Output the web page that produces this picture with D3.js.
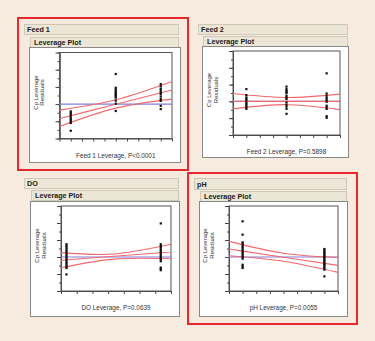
<!DOCTYPE html>
<html>
<head>
<meta charset="utf-8">
<script src="https://cdn.jsdelivr.net/npm/d3@7"></script>
<style>
  body { margin: 0; background: #f6ebde; }
  svg { display: block; font-family: "Liberation Sans", Arial, sans-serif; }
</style>
</head>
<body>
<div id="svg-container"></div>
<script>
// factor titles and the captions under each leverage plot
const factorNames = ['Feed 1', 'Feed 2', 'DO', 'pH'];
const xCaptions = [
    'Feed 1 Leverage, P<0.0001',
    'Feed 2 Leverage, P=0.5898',
    'DO Leverage, P=0.0639',
    'pH Leverage, P=0.0055'
];
const yCaption = ['Cp Leverage', 'Residuals'];

// residual axis ticks (majors every 2) and number of x ticks per plot
const yTickValues = [-4, -3, -2, -1, 0, 1, 2, 3, 4, 5, 6];
const yMajorValues = [-4, -2, 0, 2, 4, 6];
const xTickCounts = [10, 8, 7, 8];

// Feed 1: leverage levels and residuals at each level
const levelsFeed1 = [1, 5, 9];
const residFeed1 = [
    [-0.85, -1.05, -1.25, -1.45, -1.65, -1.85, -2.05, -2.2, -3.1],
    [3.5, 1.9, 1.7, 1.5, 1.35, 1.2, 1.05, 0.9, 0.75, 0.4, 0.05, -0.8],
    [2.33, 2.05, 1.75, 1.55, 1.35, 1.16, 0.88, 0.58, 0.38, -0.2, -0.58]
];
const bandXFeed1 = [0, 5, 10];
const upperFeed1 = [-0.7, 0.5, 2.63];
const fitFeed1 = [-1.67, -0.02, 1.63];
const lowerFeed1 = [-2.6, -0.47, 0.58];

// Feed 2
const levelsFeed2 = [1, 4, 7];
const residFeed2 = [
    [1.46, 0.75, 0.47, 0.28, 0.08, -0.12, -0.31, -0.51, -0.71, -0.89],
    [1.76, 1.46, 1.26, 1.14, 0.99, 0.67, 0.47, 0.28, -0.12, -0.39, -0.62, -0.89, -1.48],
    [3.34, 0.94, 0.67, 0.4, 0.16, -0.04, -0.51, -0.71, -0.89, -1.76, -1.95]
];
const bandXFeed2 = [0, 4, 8];
const upperFeed2 = [0.94, 0.47, 0.87];
const fitFeed2 = [0, 0, 0];
const lowerFeed2 = [-0.89, -0.39, -0.98];

// DO
const levelsDO = [0.35, 6.35];
const residDO = [
    [1.5, 1.3, 1.1, 0.9, 0.7, 0.5, 0.3, 0.1, -0.1, -0.3, -0.5, -0.7, -0.9, -1.1, -1.3, -2.05],
    [3.95, 1.5, 1.3, 1.1, 0.9, 0.7, 0.5, 0.3, 0.1, -0.1, -0.3, -0.5, -1.25, -1.4, -1.55]
];
const bandXDO = [0, 3.35, 7];
const upperDO = [0.51, 0.35, 1.49];
const fitDO = [-0.39, 0.08, 0.59];
const lowerDO = [-1.26, -0.25, -0.2];

// pH
const levelsPH = [1, 7];
const residPH = [
    [4.2, 2.63, 1.72, 1.57, 1.37, 1.18, 0.98, 0.78, 0.59, 0.39, 0.2, 0, -0.2, -0.91, -1.1, -1.29],
    [0.94, 0.78, 0.62, 0.47, 0.31, 0.15, 0, -0.16, -0.32, -0.47, -0.63, -0.79, -0.94, -1.1, -1.29, -1.49, -2.28]
];
const bandXPH = [0, 4, 8];
const upperPH = [1.84, 0.45, -0.05];
const fitPH = [0.94, -0.02, -0.99];
const lowerPH = [0.15, -0.5, -1.81];

// panel placement on the page
const panels = [
    {
        levels: levelsFeed1, resid: residFeed1, bandX: bandXFeed1,
        upper: upperFeed1, fit: fitFeed1, lower: lowerFeed1,
        header: { x: 24, y: 24, w: 154, h: 10 },
        sub: { x: 30, y: 37, w: 148, h: 10 },
        box: { x: 29, y: 47, w: 151, h: 115 },
        plot: { x0: 59.5, x1: 172, y0: 52.5, y1: 138.5 },
        captionY: 155,
        highlight: { x: 18, y: 18, w: 170, h: 152 }
    },
    {
        levels: levelsFeed2, resid: residFeed2, bandX: bandXFeed2,
        upper: upperFeed2, fit: fitFeed2, lower: lowerFeed2,
        header: { x: 198, y: 24, w: 149, h: 10 },
        sub: { x: 203, y: 36, w: 144, h: 10 },
        box: { x: 202, y: 46, w: 146, h: 111 },
        plot: { x0: 233, x1: 340, y0: 51, y1: 135 },
        captionY: 151
    },
    {
        levels: levelsDO, resid: residDO, bandX: bandXDO,
        upper: upperDO, fit: fitDO, lower: lowerDO,
        header: { x: 24, y: 178, w: 154, h: 10 },
        sub: { x: 31, y: 190, w: 147, h: 10 },
        box: { x: 30, y: 201, w: 149, h: 115 },
        plot: { x0: 61, x1: 171, y0: 206, y1: 291 },
        captionY: 307
    },
    {
        levels: levelsPH, resid: residPH, bandX: bandXPH,
        upper: upperPH, fit: fitPH, lower: lowerPH,
        header: { x: 194, y: 178, w: 152, h: 11 },
        sub: { x: 200, y: 191, w: 146, h: 10 },
        box: { x: 199, y: 201, w: 148, h: 115 },
        plot: { x0: 229, x1: 338, y0: 206, y1: 291 },
        captionY: 307,
        highlight: { x: 188, y: 173, w: 169, h: 151 }
    }
];

const width = 375, height = 341;
const svg = d3.select('#svg-container')
    .append('svg')
    .attr('width', width)
    .attr('height', height);

svg.append('rect')
    .attr('width', width)
    .attr('height', height)
    .attr('fill', '#f6ebde');

const drawPanel = (p, i) => {
    const g = svg.append('g').attr('class', 'panel');

    // outline bars with the factor name and "Leverage Plot"
    [p.header, p.sub].forEach((r, k) => {
        g.append('rect')
            .attr('x', r.x + 0.5).attr('y', r.y + 0.5)
            .attr('width', r.w).attr('height', r.h)
            .attr('fill', '#ebe6d6')
            .attr('stroke', '#cfc8b6');
        g.append('text')
            .attr('x', r.x + (k === 0 ? 3 : 4))
            .attr('y', r.y + r.h / 2 + 0.8)
            .attr('dominant-baseline', 'central')
            .style('font-size', '7.2px')
            .style('font-weight', 'bold')
            .style('fill', '#1a1a1a')
            .text(k === 0 ? factorNames[i] : 'Leverage Plot');
    });

    g.append('rect')
        .attr('x', p.box.x + 0.5).attr('y', p.box.y + 0.5)
        .attr('width', p.box.w).attr('height', p.box.h)
        .attr('fill', '#ffffff')
        .attr('stroke', '#888');

    const x = d3.scaleLinear().domain([0, xTickCounts[i]]).range([p.plot.x0, p.plot.x1]);
    const y = d3.scaleLinear().domain([-4, 6]).range([p.plot.y1, p.plot.y0]);

    const chart = g.append('g').attr('class', 'chart');

    // y axis: minor then major ticks
    chart.append('g')
        .attr('transform', `translate(${p.plot.x0}, 0)`)
        .call(d3.axisLeft(y).tickValues(yTickValues).tickSize(2).tickSizeOuter(0).tickFormat(''));
    chart.append('g')
        .attr('transform', `translate(${p.plot.x0}, 0)`)
        .call(d3.axisLeft(y).tickValues(yMajorValues).tickSize(4).tickSizeOuter(0).tickFormat(''));

    chart.append('g')
        .attr('transform', `translate(0, ${p.plot.y1})`)
        .call(d3.axisBottom(x).ticks(xTickCounts[i]).tickSize(3).tickSizeOuter(0).tickFormat(''));

    chart.selectAll('.domain').attr('stroke', '#444');
    chart.selectAll('.tick line').attr('stroke', '#444');

    chart.append('rect')
        .attr('x', p.plot.x0).attr('y', p.plot.y0)
        .attr('width', p.plot.x1 - p.plot.x0).attr('height', p.plot.y1 - p.plot.y0)
        .attr('fill', 'none')
        .attr('stroke', '#555');

    // mean reference line
    chart.append('line')
        .attr('x1', p.plot.x0).attr('x2', p.plot.x1)
        .attr('y1', y(0)).attr('y2', y(0))
        .attr('stroke', '#8080e0')
        .attr('stroke-width', 1.2);

    // fitted line with confidence curves
    const curve = d3.line()
        .x(d => x(d[0]))
        .y(d => y(d[1]))
        .curve(d3.curveNatural);
    [p.upper, p.fit, p.lower].forEach(vals => {
        chart.append('path')
            .datum(p.bandX.map((bx, k) => [bx, vals[k]]))
            .attr('d', curve)
            .attr('fill', 'none')
            .attr('stroke', '#f0686c')
            .attr('stroke-width', 1.1);
    });

    // residual points
    const pts = [].concat(...p.levels.map((lv, k) => p.resid[k].map(v => [lv, v])));
    chart.selectAll('rect.pt')
        .data(pts)
        .enter()
        .append('rect')
        .attr('class', 'pt')
        .attr('x', d => x(d[0]) - 1.1)
        .attr('y', d => y(d[1]) - 1.1)
        .attr('width', 2.2)
        .attr('height', 2.2)
        .attr('fill', '#111');

    // axis captions
    const yc = (p.plot.y0 + p.plot.y1) / 2 - 3;
    yCaption.forEach((t, k) => {
        chart.append('text')
            .attr('transform', `translate(${p.plot.x0 - 24 + k * 6.6}, ${yc}) rotate(-90)`)
            .attr('text-anchor', 'middle')
            .attr('dominant-baseline', 'central')
            .style('font-size', '6px')
            .style('fill', '#333')
            .text(t);
    });

    chart.append('text')
        .attr('x', (p.plot.x0 + p.plot.x1) / 2)
        .attr('y', p.captionY)
        .attr('text-anchor', 'middle')
        .attr('dominant-baseline', 'central')
        .style('font-size', '6.4px')
        .style('fill', '#333')
        .text(xCaptions[i]);

    if (p.highlight) {
        g.append('rect')
            .attr('x', p.highlight.x).attr('y', p.highlight.y)
            .attr('width', p.highlight.w).attr('height', p.highlight.h)
            .attr('fill', 'none')
            .attr('stroke', '#e8282d')
            .attr('stroke-width', 2);
    }
};

panels.forEach(drawPanel);
</script>
</body>
</html>
